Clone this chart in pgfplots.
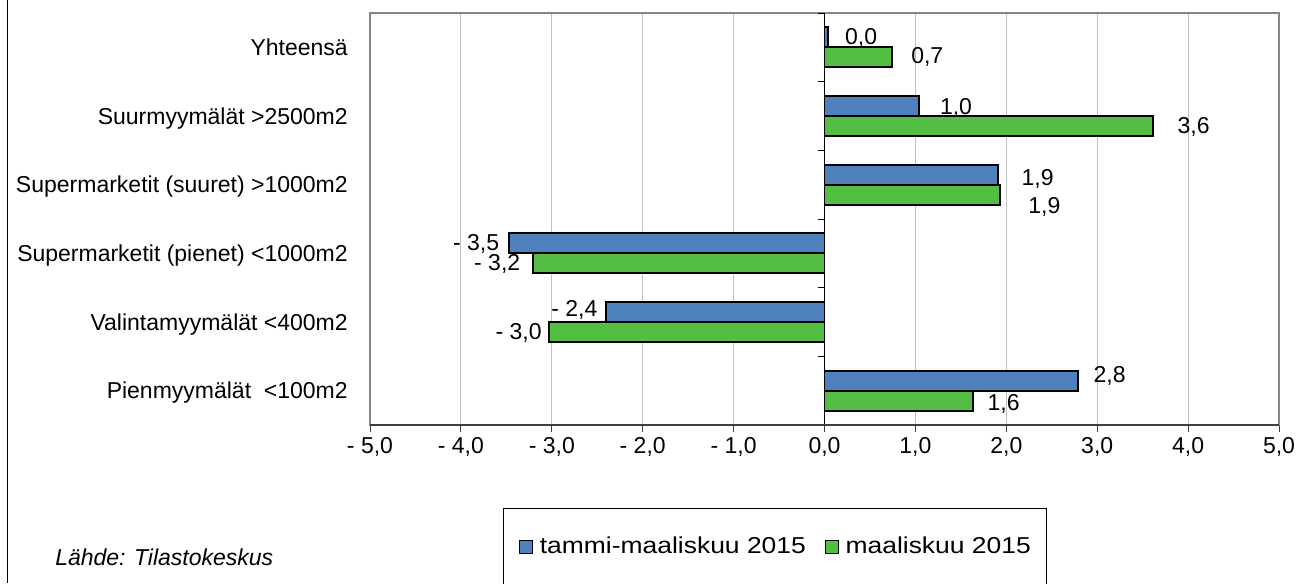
\documentclass[border=0pt]{standalone}
\usepackage{fontspec}
\setmainfont{Liberation Sans}
\usepackage{graphicx}
\usepackage{pgfplots}
\usepackage{pgfplotstable}
\pgfplotsset{compat=1.18}

\definecolor{serA}{RGB}{79,129,189}
\definecolor{serB}{RGB}{84,190,68}
\definecolor{gridc}{RGB}{192,192,192}
\definecolor{framec}{RGB}{134,134,134}

% y = category (0 = bottom), x = value, dx/dy = label offset from bar end in px
\pgfplotstableread{
y x dx dy lab
5 0.04 33 -1 {0,0}
4 1.04 37 -1.5 {1,0}
3 1.91 39.5 -4 {1,9}
2 -3.47 -33 -0.5 {- 3,5}
1 -2.40 -32 2 {- 2,4}
0 2.79 31.5 4.5 {2,8}
}\tammi
\pgfplotstableread{
y x dx dy lab
5 0.74 35.5 0.5 {0,7}
4 3.61 41 -1 {3,6}
3 1.93 44.5 -12 {1,9}
2 -3.21 -35.5 -1 {- 3,2}
1 -3.03 -30.5 -0.5 {- 3,0}
0 1.63 31 -3.5 {1,6}
}\maalis

\begin{document}
\fontsize{17.25}{20.7}\selectfont
\begin{tikzpicture}
\useasboundingbox (0,0) rectangle (975.75pt,-437.25pt);
\draw[black, line width=0.75pt] (5.25pt,0pt) -- (5.25pt,-437.25pt);
\node[anchor=base west, font=\itshape, inner sep=0pt] at (41.25pt,-423.75pt) {Lähde: Tilastokeskus};
\begin{axis}[
    at={(277.5pt,-318.75pt)}, anchor=south west,
    scale only axis, width=681.75pt, height=309pt,
    xmin=-5, xmax=5, ymin=-0.5, ymax=5.5,
    clip=false,
    xtick={-5,-4,...,5},
    xticklabels={{- 5,0},{- 4,0},{- 3,0},{- 2,0},{- 1,0},{0,0},{1,0},{2,0},{3,0},{4,0},{5,0}},
    xtick pos=bottom, xtick align=outside,
    x tick style={black!75, line width=0.75pt},
    major tick length=5.25pt,
    xticklabel style={anchor=north, inner sep=0pt, yshift=-3.75pt},
    ytick={0,...,5},
    yticklabels={{Pienmyymälät\ \ <100m2},{Valintamyymälät <400m2},{Supermarketit (pienet) <1000m2},{Supermarketit (suuret) >1000m2},{Suurmyymälät >2500m2},{Yhteensä}},
    y tick style={draw=none},
    yticklabel style={anchor=base east, inner sep=0pt, xshift=-16.5pt, yshift=-6.2pt},
    xmajorgrids, grid style={gridc, line width=0.75pt},
    extra x ticks={0}, extra x tick labels={},
    extra x tick style={grid style={black, line width=0.75pt}, major tick length=0pt},
    axis line style={framec, line width=1.5pt},
    legend columns=2,
    legend image code/.code={\draw[#1, draw=black, line width=1pt] (0pt,-4.9pt) rectangle (9.75pt,4.9pt);},
    legend style={at={(0.1463,-0.2015)}, anchor=north west, draw=black, line width=0.75pt,
        inner xsep=11.5pt, inner ysep=21.5pt,
        nodes={inner sep=0pt},
        /tikz/every odd column/.style={column sep=5pt},
        /tikz/every even column/.style={column sep=14pt}},
    nodes near coords style={anchor=center, inner sep=0pt},
]
\addplot[xbar, bar width=0.29, bar shift=0.145, fill=serA, draw=black, line width=1.4pt,
    point meta=explicit symbolic, nodes near coords,
    visualization depends on={\thisrow{dx}\as\dx},
    visualization depends on={\thisrow{dy}\as\dy},
    every node near coord/.append style={xshift={0.75pt*\dx}, yshift={0.75pt*(\dy+10)}}]
    table[x=x, y=y, meta=lab]{\tammi};
\addlegendentry{\scalebox{1.15}[1]{tammi-maaliskuu 2015}}
\addplot[xbar, bar width=0.29, bar shift=-0.145, fill=serB, draw=black, line width=1.4pt,
    point meta=explicit symbolic, nodes near coords,
    visualization depends on={\thisrow{dx}\as\dx},
    visualization depends on={\thisrow{dy}\as\dy},
    every node near coord/.append style={xshift={0.75pt*\dx}, yshift={0.75pt*(\dy-10)}}]
    table[x=x, y=y, meta=lab]{\maalis};
\addlegendentry{\scalebox{1.15}[1]{maaliskuu 2015}}
\pgfplotsinvokeforeach{-0.5,0.5,1.5,2.5,3.5,4.5,5.5}{
    \draw[black, line width=0.75pt] (axis cs:0,#1) -- ++(-5.25pt,0pt);
}
\draw[black!75, line width=1.5pt] (rel axis cs:0,0) -- (rel axis cs:1,0);
\end{axis}
\end{tikzpicture}
\end{document}
